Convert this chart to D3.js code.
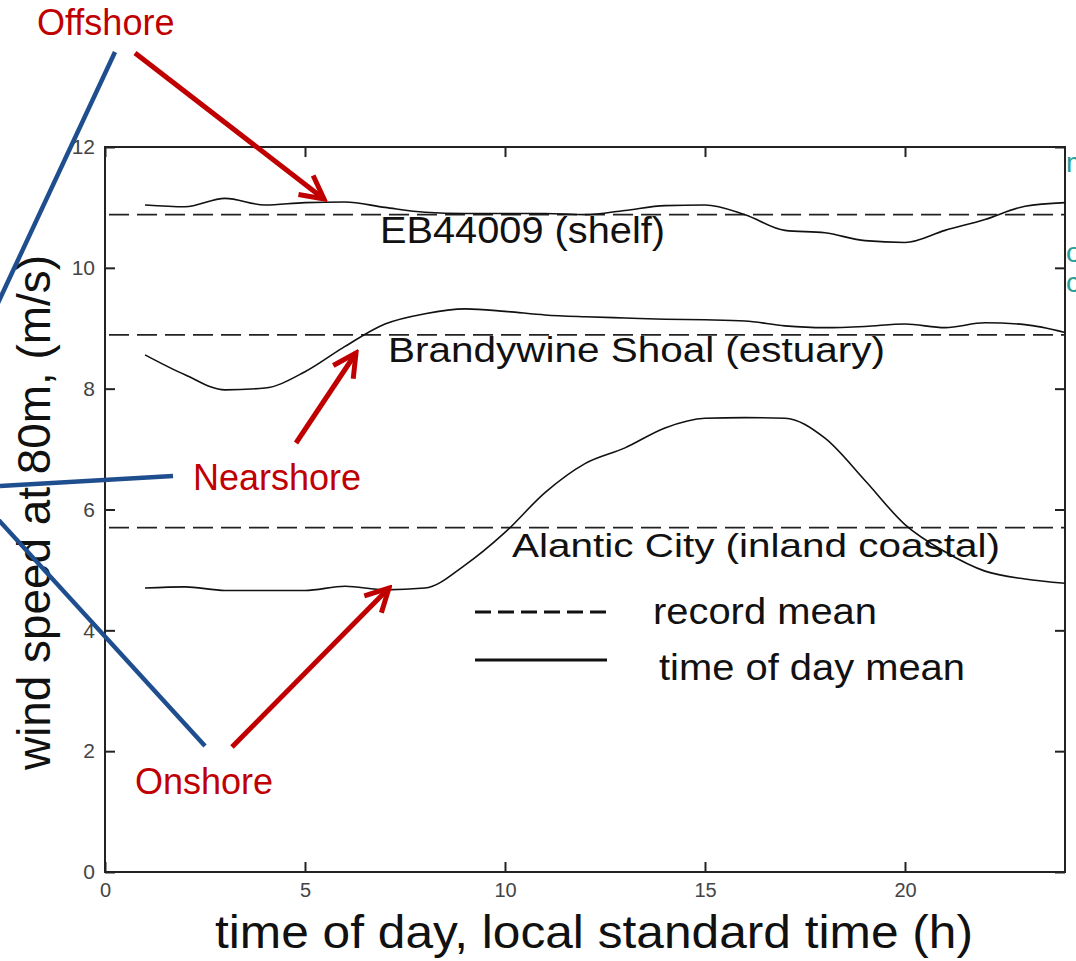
<!DOCTYPE html>
<html>
<head>
<meta charset="utf-8">
<script src="https://cdn.jsdelivr.net/npm/d3@7"></script>
<style>
  html, body { margin: 0; padding: 0; background: #fff; }
  svg { display: block; font-family: Arial, "Liberation Sans", Helvetica, sans-serif; }
</style>
</head>
<body>
<svg id="chart" width="1076" height="961"></svg>
<script>
// ---- data ----
const hours = [1,2,3,4,5,6,7,8,9,10,11,12,13,14,15,16,17,18,19,20,21,22,23,24];
const shelfTod = [11.04,11.01,11.15,11.04,11.08,11.09,11.00,10.92,10.90,10.90,10.90,10.88,10.95,11.03,11.04,10.88,10.62,10.58,10.45,10.42,10.62,10.80,11.02,11.08];
const estuaryTod = [8.56,8.23,7.98,8.01,8.28,8.70,9.07,9.24,9.32,9.28,9.22,9.19,9.17,9.15,9.14,9.12,9.04,9.01,9.03,9.07,9.01,9.09,9.06,8.93];
const inlandTod = [4.70,4.72,4.66,4.66,4.66,4.73,4.67,4.70,5.08,5.62,6.28,6.76,7.02,7.35,7.51,7.52,7.51,7.18,6.48,5.75,5.30,4.98,4.85,4.78];
const recordMeans = [10.88, 8.89, 5.70];
const siteNames = ["EB44009 (shelf)", "Brandywine Shoal (estuary)", "Alantic City (inland coastal)"];
const xTicks = [0, 5, 10, 15, 20];
const yTicks = [0, 2, 4, 6, 8, 10, 12];
const legendLabels = ["record mean", "time of day mean"];
const annotations = ["Offshore", "Nearshore", "Onshore"];

// ---- layout ----
const svg = d3.select("#chart");
const x = d3.scaleLinear().domain([0, 24]).range([105, 1065]);
const y = d3.scaleLinear().domain([0, 12]).range([872, 147]);
const RED = "#c00000", BLUE = "#1f4e8f", TEAL = "#2a9d96";

// plot box
svg.append("rect")
  .attr("x", x(0)).attr("y", y(12))
  .attr("width", x(24) - x(0)).attr("height", y(0) - y(12))
  .attr("fill", "#fff").attr("stroke", "#222").attr("stroke-width", 2);

// axes with inward ticks
const axB = svg.append("g").attr("transform", `translate(0,${y(0)})`)
  .call(d3.axisBottom(x).tickValues(xTicks).tickSizeInner(-10).tickSizeOuter(0).tickPadding(11));
const axT = svg.append("g").attr("transform", `translate(0,${y(12)})`)
  .call(d3.axisTop(x).tickValues(xTicks).tickSizeInner(-10).tickSizeOuter(0).tickFormat(""));
const axL = svg.append("g").attr("transform", `translate(${x(0)},0)`)
  .call(d3.axisLeft(y).tickValues(yTicks).tickSizeInner(-10).tickSizeOuter(0).tickPadding(10));
const axR = svg.append("g").attr("transform", `translate(${x(24)},0)`)
  .call(d3.axisRight(y).tickValues(yTicks).tickSizeInner(-10).tickSizeOuter(0).tickFormat(""));
[axB, axT, axL, axR].forEach(g => {
  g.select(".domain").remove();
  g.selectAll(".tick line").attr("stroke", "#222").attr("stroke-width", 2);
  g.selectAll(".tick text").attr("fill", "#444").style("font-size", "20px")
    .style("font-family", "Arial, 'Liberation Sans', sans-serif");
});
axB.selectAll(".tick text").attr("dy", "0.71em");
axL.selectAll(".tick text").style("font-size", "21px");

// record mean dashed lines
svg.selectAll("line.rec").data(recordMeans).enter().append("line")
  .attr("class", "rec")
  .attr("x1", x(0) + 4).attr("x2", x(24))
  .attr("y1", d => y(d)).attr("y2", d => y(d))
  .attr("stroke", "#222").attr("stroke-width", 1.6)
  .attr("stroke-dasharray", "20,8");

// time of day mean lines
const line = d3.line().x((d, i) => x(hours[i])).y(d => y(d)).curve(d3.curveMonotoneX);
[shelfTod, estuaryTod, inlandTod].forEach(s => {
  svg.append("path").datum(s).attr("d", line)
    .attr("fill", "none").attr("stroke", "#111").attr("stroke-width", 1.6);
});

// site labels
const siteLabelPos = [
  {x: 380, y: 243, len: 285, fs: 36},
  {x: 388, y: 362, len: 497, fs: 35},
  {x: 512, y: 557, len: 488, fs: 34}
];
siteNames.forEach((t, i) => {
  const p = siteLabelPos[i];
  svg.append("text").attr("x", p.x).attr("y", p.y)
    .attr("textLength", p.len).attr("lengthAdjust", "spacingAndGlyphs")
    .style("font-size", p.fs + "px").attr("fill", "#111").text(t);
});

// legend
svg.append("line").attr("x1", 475).attr("x2", 610).attr("y1", 612).attr("y2", 612)
  .attr("stroke", "#111").attr("stroke-width", 3).attr("stroke-dasharray", "16,7");
svg.append("line").attr("x1", 475).attr("x2", 607).attr("y1", 660).attr("y2", 660)
  .attr("stroke", "#111").attr("stroke-width", 3);
svg.append("text").attr("x", 653).attr("y", 624)
  .attr("textLength", 224).attr("lengthAdjust", "spacingAndGlyphs")
  .style("font-size", "37px").attr("fill", "#111").text(legendLabels[0]);
svg.append("text").attr("x", 659).attr("y", 680)
  .attr("textLength", 306).attr("lengthAdjust", "spacingAndGlyphs")
  .style("font-size", "37px").attr("fill", "#111").text(legendLabels[1]);

// axis titles
svg.append("text").attr("x", 215).attr("y", 948)
  .attr("textLength", 758).attr("lengthAdjust", "spacingAndGlyphs")
  .style("font-size", "46px").attr("fill", "#111")
  .text("time of day, local standard time (h)");
svg.append("text").attr("transform", "translate(50,770) rotate(-90)")
  .attr("textLength", 515).attr("lengthAdjust", "spacingAndGlyphs")
  .style("font-size", "46px").attr("fill", "#111")
  .text("wind speed at 80m, (m/s)");

// partial teal text clipped at right edge (as in the reference)
[["m", 172], ["o", 262], ["c", 292]].forEach(([t, yy]) => {
  svg.append("text").attr("x", 1066).attr("y", yy)
    .style("font-size", "28px").attr("fill", TEAL).text(t);
});

// annotations: blue leader lines
const blueLines = [
  [[115, 52], [-10, 320]],
  [[0, 486], [173, 476]],
  [[-5, 516], [205, 746]]
];
blueLines.forEach(([a, b]) => {
  svg.append("line").attr("x1", a[0]).attr("y1", a[1]).attr("x2", b[0]).attr("y2", b[1])
    .attr("stroke", BLUE).attr("stroke-width", 4.5);
});

// red arrows
const defs = svg.append("defs");
defs.append("marker").attr("id", "ah")
  .attr("markerUnits", "userSpaceOnUse")
  .attr("viewBox", "-30 -16 34 32").attr("refX", 0).attr("refY", 0)
  .attr("markerWidth", 34).attr("markerHeight", 32).attr("orient", "auto")
  .append("path").attr("d", "M-23,-12 L0,0 L-23,12")
  .attr("fill", "none").attr("stroke", RED).attr("stroke-width", 5)
  .attr("stroke-linejoin", "miter");
const redArrows = [
  [[135, 53], [324, 199]],
  [[296, 443], [356, 353]],
  [[232, 747], [389, 588]]
];
redArrows.forEach(([a, b]) => {
  svg.append("line").attr("x1", a[0]).attr("y1", a[1]).attr("x2", b[0]).attr("y2", b[1])
    .attr("stroke", RED).attr("stroke-width", 5).attr("marker-end", "url(#ah)");
});

// annotation labels
const annPos = [[37, 35], [193, 490], [135, 794]];
annotations.forEach((t, i) => {
  svg.append("text").attr("x", annPos[i][0]).attr("y", annPos[i][1])
    .style("font-size", "36px").attr("fill", RED).text(t);
});
</script>
</body>
</html>
